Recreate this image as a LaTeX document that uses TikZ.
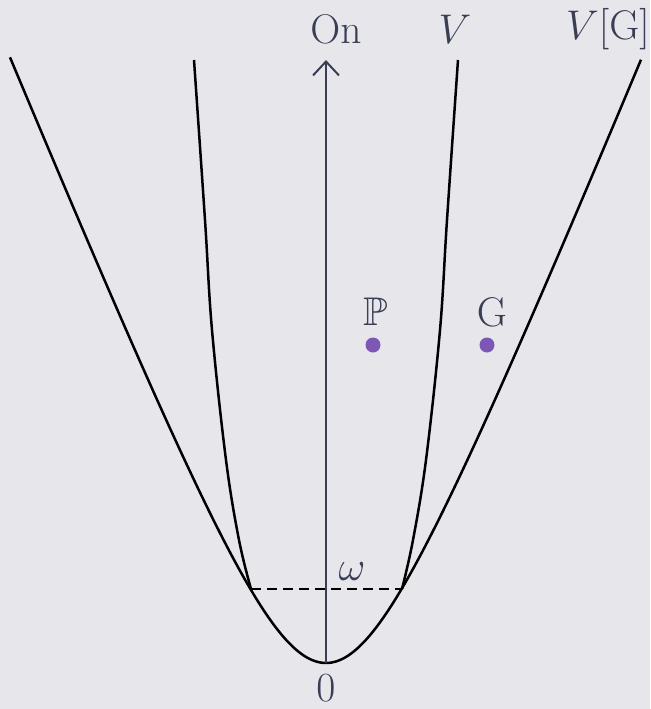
\documentclass[tikz,border=0pt]{standalone}
\usepackage{amssymb}
\usetikzlibrary{arrows.meta}
\definecolor{bg}{HTML}{E7E7EB}
\definecolor{ink}{HTML}{3A3E54}
\definecolor{dotc}{HTML}{7C57B6}
\tikzset{
  lbl/.style={text=ink, font=\fontsize{20}{24}\selectfont, inner sep=0pt},
  curve/.style={line width=1.25pt, black},
  pdot/.style={circle, fill=dotc, minimum size=7.5pt, inner sep=0pt},
}
\begin{document}
\begin{tikzpicture}[x=0.5pt, y=-0.5pt]
\fill[bg] (0,0) rectangle (650,709);
\useasboundingbox (0,0) rectangle (650,709);
% points
\coordinate (zero) at (326,663);
\coordinate (top) at (326,60);
\coordinate (wl) at (251,589);
\coordinate (wr) at (402,589);
% V[G]
\draw[curve] plot[domain=-316:315, samples=160, smooth] ({\x+326}, {663-197*(sqrt(1+(\x/80)^2)-1)});
% V
\draw[curve] plot[smooth, tension=0.6] coordinates {(194,60) (205,220) (212,330) (226,460) (239,540) (251,589)};
\draw[curve] plot[smooth, tension=0.6] coordinates {(458,60) (447,220) (440,330) (426,460) (413,540) (402,589)};
% dashed omega line
\draw[line width=1.1pt, black, dash pattern=on 5pt off 3pt] (wl) -- (wr);
% axis
\draw[ink, line width=1pt, -{Straight Barb[length=7pt, width=13pt, line width=1pt]}] (zero) -- (top);
% labels
\node[lbl] (on) at (336,29) {$\mathrm{On}$};
\node[lbl] (vl) at (455,29) {$V$};
\node[lbl] (vg) at (608,29) {$V[\mathrm{G}]$};
\node[lbl] (pl) at (376,312) {$\mathbb{P}$};
\node[lbl] (gl) at (492,312) {$\mathrm{G}$};
\node[lbl] (om) at (352,572) {$\omega$};
\node[lbl, anchor=base] (zl) at (326,701) {$0$};
\node[pdot] (pd) at (373,345) {};
\node[pdot] (gd) at (487,345) {};
\end{tikzpicture}
\end{document}
